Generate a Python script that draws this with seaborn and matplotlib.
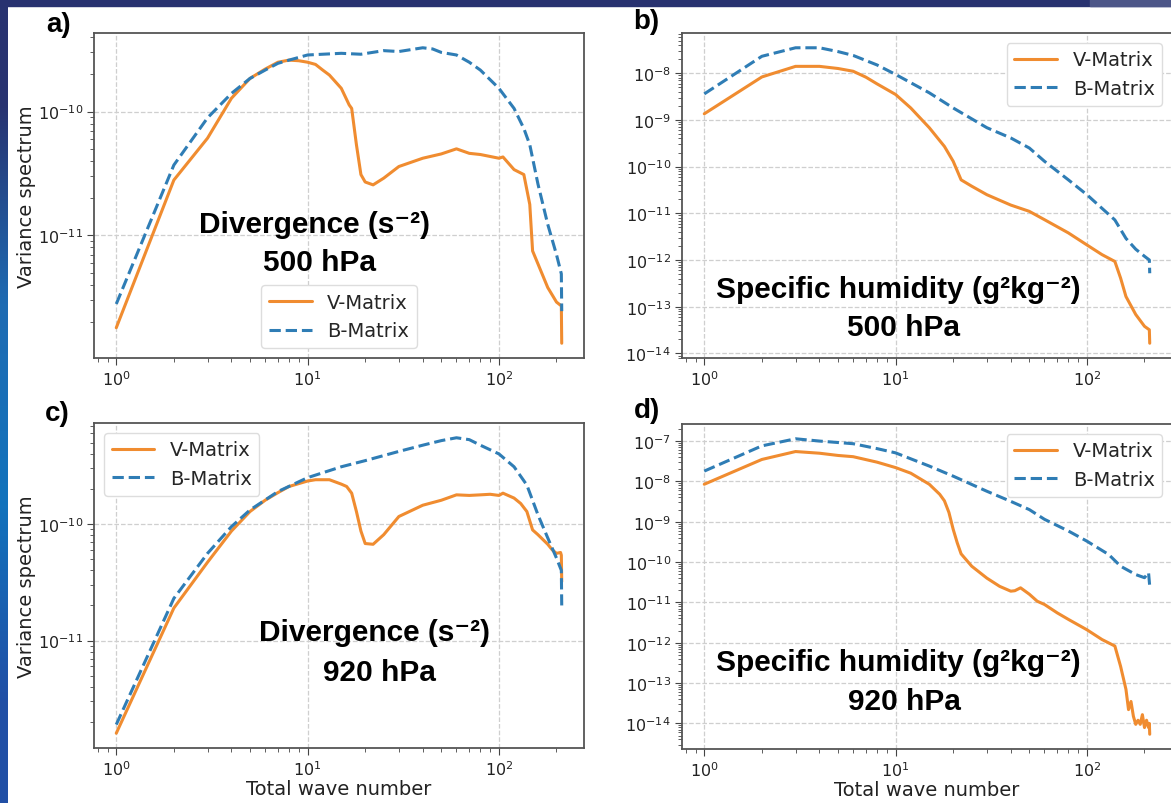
import numpy as np
import pandas as pd
import matplotlib
matplotlib.use('Agg')
import matplotlib.pyplot as plt
import seaborn as sns
from matplotlib.patches import Rectangle

# wave numbers and spectra
k_div500 = [1, 2, 3, 4, 5, 6, 7, 8, 9, 10, 11, 12, 13, 15, 16.5, 17, 18, 19, 20, 22, 25, 30, 40, 50, 60, 70, 80,
            100, 105, 120, 135, 145, 150, 160, 180, 200, 212, 213]
v_div500 = [1.8e-12, 2.8e-11, 6.1e-11, 1.28e-10, 1.85e-10, 2.2e-10, 2.5e-10, 2.6e-10, 2.57e-10, 2.5e-10, 2.4e-10,
            2.16e-10, 1.97e-10, 1.54e-10, 1.13e-10, 1.06e-10, 5.4e-11, 3.1e-11, 2.7e-11, 2.56e-11, 2.9e-11, 3.6e-11,
            4.2e-11, 4.55e-11, 5.0e-11, 4.6e-11, 4.5e-11, 4.2e-11, 4.3e-11, 3.4e-11, 3.1e-11, 1.78e-11, 7.5e-12,
            5.9e-12, 3.8e-12, 2.9e-12, 2.7e-12, 1.35e-12]
kb_div500 = [1, 2, 3, 4, 5, 6, 7, 8, 10, 15, 19, 25, 30, 40, 45, 50, 60, 70, 80, 100, 120, 135, 145, 160, 180,
             200, 212, 213]
b_div500 = [2.8e-12, 3.7e-11, 8.9e-11, 1.4e-10, 1.85e-10, 2.16e-10, 2.45e-10, 2.6e-10, 2.86e-10, 2.95e-10,
            2.9e-10, 3.1e-10, 3.05e-10, 3.27e-10, 3.2e-10, 3.0e-10, 2.86e-10, 2.5e-10, 2.16e-10, 1.54e-10, 1.06e-10,
            7.3e-11, 5.4e-11, 2.6e-11, 1.23e-11, 7.0e-12, 4.9e-12, 2.45e-12]

k_q500 = [1, 2, 3, 4, 5, 6, 7, 8, 10, 12, 15, 18, 20, 22, 25, 30, 40, 50, 60, 80, 100, 120, 140, 150, 160, 180,
          200, 212, 213]
v_q500 = [1.35e-9, 8.3e-9, 1.4e-8, 1.4e-8, 1.26e-8, 1.1e-8, 8.2e-9, 5.9e-9, 3.5e-9, 1.8e-9, 6.8e-10, 2.7e-10,
          1.3e-10, 5.2e-11, 3.8e-11, 2.5e-11, 1.5e-11, 1.1e-11, 7.3e-12, 3.8e-12, 2.1e-12, 1.3e-12, 9.3e-13,
          4.1e-13, 1.65e-13, 6.8e-14, 3.8e-14, 3.2e-14, 1.65e-14]
kb_q500 = [1, 2, 3, 4, 5, 6, 8, 10, 15, 20, 30, 40, 50, 60, 80, 100, 140, 160, 180, 200, 212, 213]
b_q500 = [3.6e-9, 2.3e-8, 3.5e-8, 3.5e-8, 2.9e-8, 2.4e-8, 1.5e-8, 9.4e-9, 3.8e-9, 1.8e-9, 6.8e-10, 4.1e-10,
          2.5e-10, 1.3e-10, 5.2e-11, 2.5e-11, 7.2e-12, 2.9e-12, 1.7e-12, 1.2e-12, 1.0e-12, 5.2e-13]

k_div920 = [1, 2, 3, 4, 5, 6, 7, 8, 10, 11, 13, 15, 16, 17, 18, 19, 20, 22, 25, 30, 40, 50, 60, 70, 80, 90, 100,
            105, 120, 130, 140, 150, 160, 180, 190, 200, 210, 212, 213]
v_div920 = [1.6e-12, 1.9e-11, 4.7e-11, 8.7e-11, 1.28e-10, 1.6e-10, 1.86e-10, 2.1e-10, 2.34e-10, 2.4e-10, 2.4e-10,
            2.2e-10, 2.1e-10, 1.84e-10, 1.28e-10, 8.7e-11, 6.8e-11, 6.7e-11, 8.1e-11, 1.16e-10, 1.45e-10, 1.6e-10,
            1.78e-10, 1.76e-10, 1.78e-10, 1.8e-10, 1.76e-10, 1.84e-10, 1.67e-10, 1.5e-10, 1.28e-10, 8.9e-11,
            8.1e-11, 6.7e-11, 6.0e-11, 5.6e-11, 5.7e-11, 5.4e-11, 3.2e-11]
kb_div920 = [1, 2, 3, 4, 5, 7, 10, 15, 20, 30, 40, 50, 60, 70, 80, 100, 120, 140, 160, 180, 200, 212, 213]
b_div920 = [1.9e-12, 2.3e-11, 5.6e-11, 9.5e-11, 1.32e-10, 1.9e-10, 2.5e-10, 3.1e-10, 3.5e-10, 4.2e-10, 4.75e-10,
            5.2e-10, 5.5e-10, 5.3e-10, 4.75e-10, 4.0e-10, 3.1e-10, 2.16e-10, 1.2e-10, 7.6e-11, 5.1e-11, 4.0e-11,
            2.0e-11]

k_q920 = [1, 2, 3, 4, 5, 6, 8, 10, 12, 15, 17, 18, 19, 20, 21, 22, 25, 30, 35, 40, 42, 45, 50, 55, 60, 70, 80,
          100, 120, 140, 150, 160, 165, 170, 175, 180, 185, 190, 195, 200, 205, 210, 212, 213]
v_q920 = [8.5e-9, 3.5e-8, 5.5e-8, 5.0e-8, 4.4e-8, 4.1e-8, 3.0e-8, 2.2e-8, 1.6e-8, 8.5e-9, 4.8e-9, 3.3e-9, 1.7e-9,
          6.5e-10, 3.0e-10, 1.6e-10, 7.9e-11, 4.0e-11, 2.5e-11, 1.9e-11, 1.95e-11, 2.3e-11, 1.6e-11, 1.07e-11,
          8.9e-12, 5.5e-12, 3.8e-12, 2.1e-12, 1.2e-12, 8.3e-13, 2.6e-13, 7.0e-14, 2.2e-14, 3.5e-14, 1.5e-14,
          9.5e-15, 1.2e-14, 9.5e-15, 1.65e-14, 7.9e-15, 1.2e-14, 7.9e-15, 1.0e-14, 5.4e-15]
kb_q920 = [1, 2, 3, 4, 6, 8, 10, 15, 20, 30, 40, 50, 60, 80, 100, 130, 150, 180, 200, 210, 213]
b_q920 = [1.8e-8, 7.6e-8, 1.14e-7, 1.0e-7, 8.6e-8, 6.5e-8, 5.1e-8, 2.4e-8, 1.35e-8, 5.7e-9, 3.2e-9, 2.0e-9,
          1.15e-9, 5.9e-10, 3.3e-10, 1.54e-10, 7.9e-11, 4.9e-11, 4.1e-11, 5.5e-11, 2.5e-11]

panel_letters = ['a)', 'b)', 'c)', 'd)']
names = ['Divergence (s\u207b\u00b2)', 'Specific humidity (g\u00b2kg\u207b\u00b2)']
levels = ['500 hPa', '920 hPa']

sns.set_style('ticks')
plt.rcParams['font.family'] = ['DejaVu Sans']

orange = '#f08c30'
blue = '#2f7db5'
bold_font = ['Liberation Sans', 'DejaVu Sans']

fig = plt.figure(figsize=(11.71, 8.04), dpi=100)
W, H = 1171, 804

# slide background strips
fig.patches.append(Rectangle((0, 1 - 7 / H), 1, 7 / H, transform=fig.transFigure, color='#283270', zorder=0))
fig.patches.append(Rectangle((1090 / W, 1 - 7 / H), 1, 7 / H, transform=fig.transFigure, color='#4d5688', zorder=0))
strip = fig.add_axes([0, 0, 8 / W, 1 - 7 / H])
grad = np.array([[0.16, 0.20, 0.44], [0.12, 0.42, 0.70], [0.07, 0.45, 0.74], [0.13, 0.31, 0.65]])
strip.imshow(grad[:, None, :], aspect='auto', interpolation='bilinear', extent=[0, 1, 0, 1])
strip.axis('off')

boxes = [[94 / W, 1 - 359 / H, 490 / W, 325 / H],
         [682 / W, 1 - 359 / H, 490 / W, 325 / H],
         [94 / W, 1 - 749 / H, 490 / W, 325 / H],
         [682 / W, 1 - 750 / H, 490 / W, 325 / H]]
series = [(k_div500, v_div500, kb_div500, b_div500),
          (k_q500, v_q500, kb_q500, b_q500),
          (k_div920, v_div920, kb_div920, b_div920),
          (k_q920, v_q920, kb_q920, b_q920)]
legend_loc = ['lower center', 'upper right', 'upper left', 'upper right']
text_pos = [((0.449, 0.412), (0.461, 0.295)),
            ((0.441, 0.212), (0.453, 0.095)),
            ((0.573, 0.357), (0.582, 0.234)),
            ((0.441, 0.268), (0.453, 0.148))]
letter_pos = [(-0.072, 1.027), (-0.072, 1.036), (-0.074, 1.030), (-0.072, 1.042)]

for i in range(4):
    ax = fig.add_axes(boxes[i])
    kv, vv, kb, bb = series[i]
    sns.lineplot(x=kv, y=vv, ax=ax, color=orange, lw=2.2, label='V-Matrix')
    sns.lineplot(x=kb, y=bb, ax=ax, color=blue, lw=2.2, ls='--', label='B-Matrix')
    ax.set_xscale('log')
    ax.set_yscale('log')
    ax.autoscale_view()
    ax.grid(True, which='major', ls='--', color='#cfcfcf', lw=0.9)
    for s in ax.spines.values():
        s.set_color('#555555')
        s.set_linewidth(1.3)
    ax.tick_params(which='both', colors='#444444', labelcolor='#222222', labelsize=11.5, pad=3)
    ax.tick_params(which='major', length=5)
    ax.tick_params(which='minor', length=3)
    ax.legend(loc=legend_loc[i], fontsize=14, framealpha=1, edgecolor='#dddddd', handlelength=2.2)
    if i % 2 == 0:
        ax.set_ylabel('Variance spectrum', fontsize=14, color='#222222', labelpad=1)
    if i >= 2:
        ax.set_xlabel('Total wave number', fontsize=14, color='#222222', labelpad=1)
    (x1, y1), (x2, y2) = text_pos[i]
    ax.text(x1, y1, names[i % 2], transform=ax.transAxes, ha='center', va='center', fontsize=21.5,
            fontweight='bold', color='black', family=bold_font)
    ax.text(x2, y2, levels[i // 2], transform=ax.transAxes, ha='center', va='center', fontsize=21.5,
            fontweight='bold', color='black', family=bold_font)
    lx, ly = letter_pos[i]
    ax.text(lx, ly, panel_letters[i], transform=ax.transAxes, ha='center', va='center', fontsize=20,
            fontweight='bold', color='black', family=bold_font, clip_on=False)

fig.savefig('out.png', dpi=100, facecolor='white')
